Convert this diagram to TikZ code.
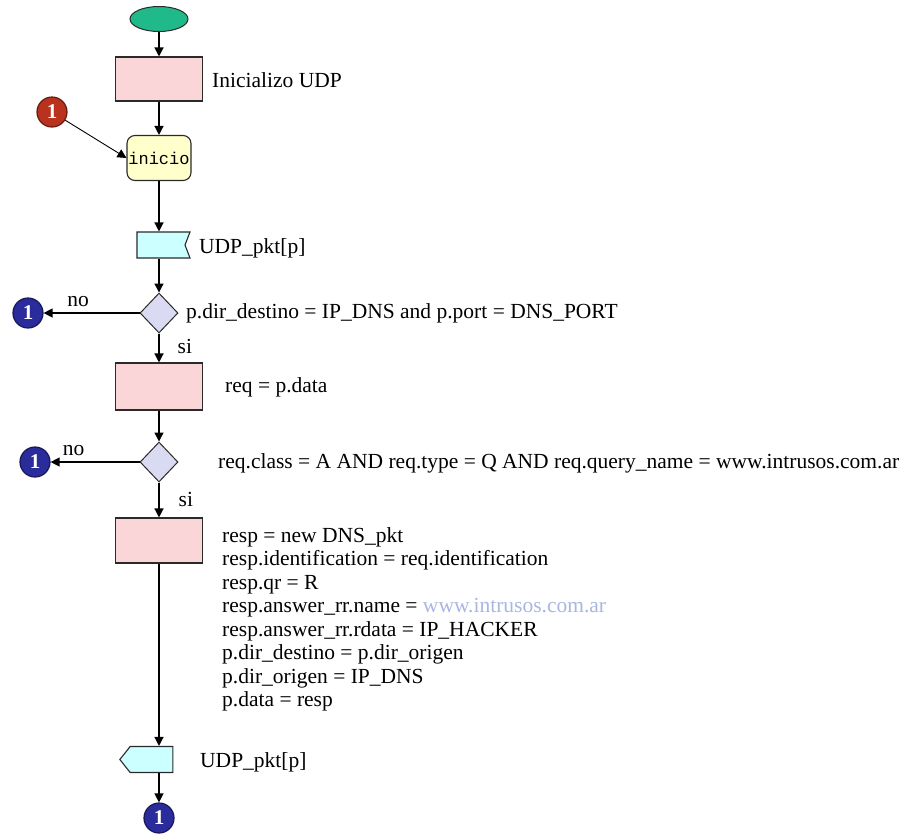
\documentclass[tikz,border=0pt]{standalone}
\usepackage{fontspec}
\setmainfont{Liberation Serif}
\newfontfamily\monofont{Liberation Mono}
\usepackage{tikz}
\usetikzlibrary{arrows.meta,positioning,calc,shapes.geometric,shapes.symbols}
\definecolor{verde}{HTML}{1FB98A}
\definecolor{rosa}{HTML}{FAD6D8}
\definecolor{crema}{HTML}{FFFFCC}
\definecolor{celeste}{HTML}{CCFFFF}
\definecolor{lila}{HTML}{DADAF2}
\definecolor{rojo}{HTML}{B8321E}
\definecolor{azul}{HTML}{2A2C9C}
\definecolor{enlace}{HTML}{A9B6E0}
\definecolor{borde}{HTML}{2A2A2A}
\tikzset{
  proceso/.style={draw=borde,line width=1.1pt,fill=rosa,minimum width=87pt,minimum height=44pt,inner sep=0pt},
  rombo/.style={diamond,draw=borde,line width=1pt,fill=lila,minimum width=38pt,minimum height=40pt,inner sep=0pt},
  paquete/.style={signal,draw=borde,line width=1.1pt,fill=celeste,minimum width=53pt,minimum height=26pt,inner sep=0pt},
  conector/.style={circle,draw=#1!55!black,line width=1.2pt,fill=#1,minimum size=30pt,inner sep=0pt,text=white,font=\fontsize{21}{21}\selectfont\bfseries},
  texto/.style={anchor=west,inner sep=0pt},
  etiqueta/.style={inner sep=0pt},
  flecha/.style={-{Triangle[length=9pt,width=9pt]},line width=1.3pt}
}
\begin{document}
\begin{tikzpicture}[x=1pt,y=-1pt,font=\fontsize{21.5}{23.5}\selectfont]
  \useasboundingbox (0,0) rectangle (909,836);
  % inicio del diagrama
  \node[ellipse,draw=borde,line width=1pt,fill=verde,minimum width=58pt,minimum height=25pt] (ini) at (159,19) {};
  \node[proceso] (init) at (159,79) {};
  \node[texto] at (212,80) {Inicializo UDP};
  \node[draw=borde,line width=1.1pt,fill=crema,rounded corners=8pt,minimum width=64pt,minimum height=45pt,inner sep=0pt,
        font=\monofont\fontsize{17}{17}\selectfont] (bucle) at (159,158) {inicio};
  \node[conector=rojo] (c0) at (52,112) {1};
  % recepcion
  \node[paquete,signal to=nowhere,signal from=east,signal pointer angle=138] (entrada) at (161,245) {};
  \node[texto] at (199,248) {UDP\_pkt[p]};
  \node[rombo] (dec1) at (159,313) {};
  \node[texto] at (186,313) {p.dir\_destino = IP\_DNS and p.port = DNS\_PORT};
  \node[conector=azul] (c1) at (28,313) {1};
  \node[proceso,minimum height=47pt] (leer) at (159,386.5) {};
  \node[texto] at (225,387) {req = p.data};
  \node[rombo] (dec2) at (159,462) {};
  \node[texto] at (218,463) {req.class = A AND req.type = Q AND req.query\_name = www.intrusos.com.ar};
  \node[conector=azul] (c2) at (35,462) {1};
  % respuesta
  \node[proceso,minimum height=45pt] (armar) at (159,540.5) {};
  \node[texto,anchor=north west,align=left] at (222,527) {resp = new DNS\_pkt\\
    resp.identification = req.identification\\
    resp.qr = R\\
    resp.answer\_rr.name = {\color{enlace}www.intrusos.com.ar}\\
    resp.answer\_rr.rdata = IP\_HACKER\\
    p.dir\_destino = p.dir\_origen\\
    p.dir\_origen = IP\_DNS\\
    p.data = resp};
  \node[paquete,signal to=west,signal from=nowhere,signal pointer angle=103] (salida) at (151.5,759.5) {};
  \node[texto] at (200,762) {UDP\_pkt[p]};
  \node[conector=azul] (c3) at (159,818) {1};
  % conexiones
  \draw[flecha] (ini) -- (init);
  \draw[flecha] (init) -- (bucle);
  \draw[flecha,line width=.9pt] (c0) -- (bucle.west);
  \draw[flecha] (bucle.south) -- (bucle.south |- entrada.north);
  \draw[flecha] (bucle.south |- entrada.south) -- (dec1);
  \draw[flecha] (dec1) -- node[etiqueta,pos=.64,above=6pt] {no} (c1);
  \draw[flecha] (dec1) -- node[etiqueta,pos=.45,right=18pt] {si} (leer);
  \draw[flecha] (leer) -- (dec2);
  \draw[flecha] (dec2) -- node[etiqueta,pos=.74,above=6pt] {no} (c2);
  \draw[flecha] (dec2) -- node[etiqueta,pos=.5,right=19pt] {si} (armar);
  \draw[flecha] (armar.south) -- (armar.south |- salida.north);
  \draw[flecha] (c3 |- salida.south) -- (c3);
\end{tikzpicture}
\end{document}
